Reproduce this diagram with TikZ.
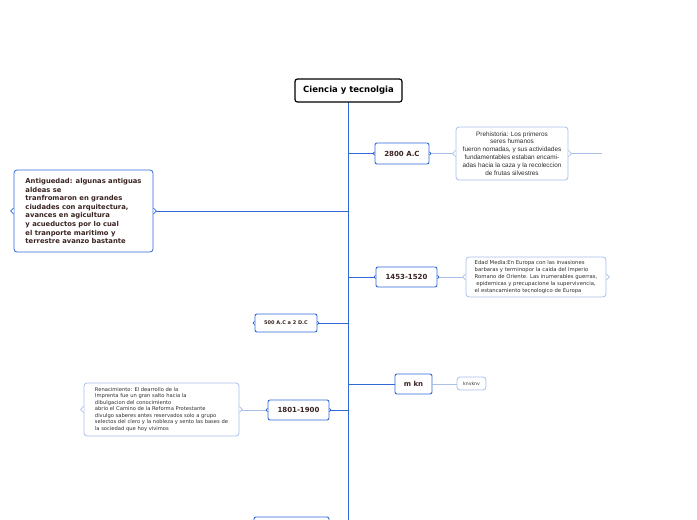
\documentclass[tikz,border=0pt]{standalone}
\usepackage{fontspec}
\setmainfont{Liberation Sans}
\newfontfamily\topicfont{DejaVu Sans}

\definecolor{trunkblue}{HTML}{2F68D8}
\definecolor{paleblue}{HTML}{A9BFEA}
\definecolor{labelbrown}{HTML}{3A2422}
\definecolor{notegray}{HTML}{2E2E2E}

\tikzset{
  rootbox/.style={draw=black, line width=1.2pt, rounded corners=2.5pt, fill=white, inner sep=0pt,
    font=\topicfont\bfseries\fontsize{8.5}{10}\selectfont},
  datebox/.style={draw=trunkblue, line width=0.9pt, rounded corners=2pt, fill=white, inner sep=0pt,
    text=labelbrown, font=\topicfont\bfseries\fontsize{7}{8.5}\selectfont},
  notebox/.style={draw=paleblue, line width=0.8pt, rounded corners=3pt, fill=white, inner sep=0pt,
    text=notegray},
  branch/.style={draw=trunkblue, line width=0.9pt},
  twig/.style={draw=paleblue, line width=0.9pt},
  bump/.style={line width=0.8pt, line join=round, fill=white}
}

\begin{document}
\begin{tikzpicture}[x=1pt, y=-1pt]
\useasboundingbox (0,0) rectangle (697,520); % page
\coordinate (trunkend) at (348.5,525); % trunk runs off the page
\coordinate (prehistend) at (602,153.5); % loose end right of Prehistoria

\draw[branch] (348.5,90.5) -- (trunkend); % trunk
\node[rootbox, minimum width=107pt, minimum height=23pt] (root) at (348.5,90.5) {Ciencia y tecnolgia}; % root

% date topics
\node[datebox, minimum width=54pt, minimum height=21pt] (bc2800) at (402,153.5) {2800 A.C};
\node[datebox, minimum width=61pt, minimum height=20pt] (y1453) at (406.5,277) {1453-1520};
\node[datebox, minimum width=62pt, minimum height=18pt, font=\topicfont\bfseries\fontsize{5}{6}\selectfont] (bc500) at (286,323) {500 A.C a 2 D.C};
\node[datebox, minimum width=37pt, minimum height=20pt] (mkn) at (413.5,384) {m kn};
\node[datebox, minimum width=61pt, minimum height=20pt] (y1801) at (298.5,410) {1801-1900};
\node[datebox, minimum width=75pt, minimum height=20pt] (lastdate) at (291.5,527) {}; % cut by page edge

% notes
\node[notebox, minimum width=112pt, minimum height=53pt, align=center, font=\fontsize{6.4}{7.9}\selectfont] (prehistory) at (512,153.5)
  {Prehistoria: Los primeros\\ seres humanos\\ fueron nomadas, y sus actividades\\ fundamentables estaban encami-\\ adas hacia la caza y la recoleccion\\ de frutas silvestres};
\node[notebox, draw=trunkblue, minimum width=139pt, minimum height=82pt, align=left, text=labelbrown,
  font=\topicfont\bfseries\fontsize{6.8}{8.6}\selectfont] (antiquity) at (83.5,211)
  {Antiguedad: algunas antiguas\\ aldeas se\\ tranfromaron en grandes\\ ciudades con arquitectura,\\ avances en agicultura\\ y acueductos por lo cual\\ el tranporte maritimo y\\ terrestre avanzo bastante};
\node[notebox, minimum width=140pt, minimum height=40pt, align=left, font=\topicfont\fontsize{5.3}{6.8}\selectfont] (middleages) at (536,277)
  {Edad Media:En Europa con las invasiones\\ barbaras y terminopor la caida del Imperio\\ Romano de Oriente. Las inumerables guerras,\\ \ epidemicas y precupacione la supervivencia,\\ el estancamiento tecnologico de Europa};
\node[notebox, minimum width=155pt, minimum height=53pt, align=left, font=\topicfont\fontsize{5.2}{6.5}\selectfont] (renaissance) at (161.5,409.5)
  {Renacimiento: El dearrollo de la\\ Imprenta fue un gran salto hacia la\\ dibulgacion del conocimiento\\ abrio el Camino de la Reforma Protestante\\ divulgo saberes antes reservados solo a grupo\\ selectos del clero y la nobleza y sento las bases de\\ la sociedad que hoy vivimos};
\node[notebox, minimum width=29pt, minimum height=13pt, font=\topicfont\fontsize{4.6}{5.5}\selectfont] (knvknv) at (471.5,383.5) {knvknv};

% connectors from the trunk
\draw[branch] (bc2800.west) -- (bc2800.west -| root.south);
\draw[branch] (y1453.west) -- (y1453.west -| root.south);
\draw[branch] (bc500.east) -- (bc500.east -| root.south);
\draw[branch] (mkn.west) -- (mkn.west -| root.south);
\draw[branch] (y1801.east) -- (y1801.east -| root.south);
\draw[branch] (antiquity.east) -- (antiquity.east -| root.south);

% connectors to the notes
\draw[twig] (bc2800.east) -- (prehistory.west);
\draw[twig] (prehistory.east) -- (prehistend);
\draw[twig] (y1453.east) -- (y1453.east -| middleages.west);
\draw[twig] (mkn.east) -- (mkn.east -| knvknv.west);
\draw[twig] (y1801.west) -- (y1801.west -| renaissance.east);

% little brace points on the sides
\foreach \n/\c/\s in {prehistory/paleblue/3, middleages/paleblue/3, renaissance/paleblue/3, antiquity/trunkblue/3,
  bc2800/trunkblue/1.5, y1453/trunkblue/1.5, bc500/trunkblue/1.5, y1801/trunkblue/1.5} {
  \draw[bump, draw=\c] ([yshift=\s]\n.west) -- ([xshift=-\s]\n.west) -- ([yshift=-\s]\n.west);
  \draw[bump, draw=\c] ([yshift=\s]\n.east) -- ([xshift=\s]\n.east) -- ([yshift=-\s]\n.east);
}
\end{tikzpicture}
\end{document}
